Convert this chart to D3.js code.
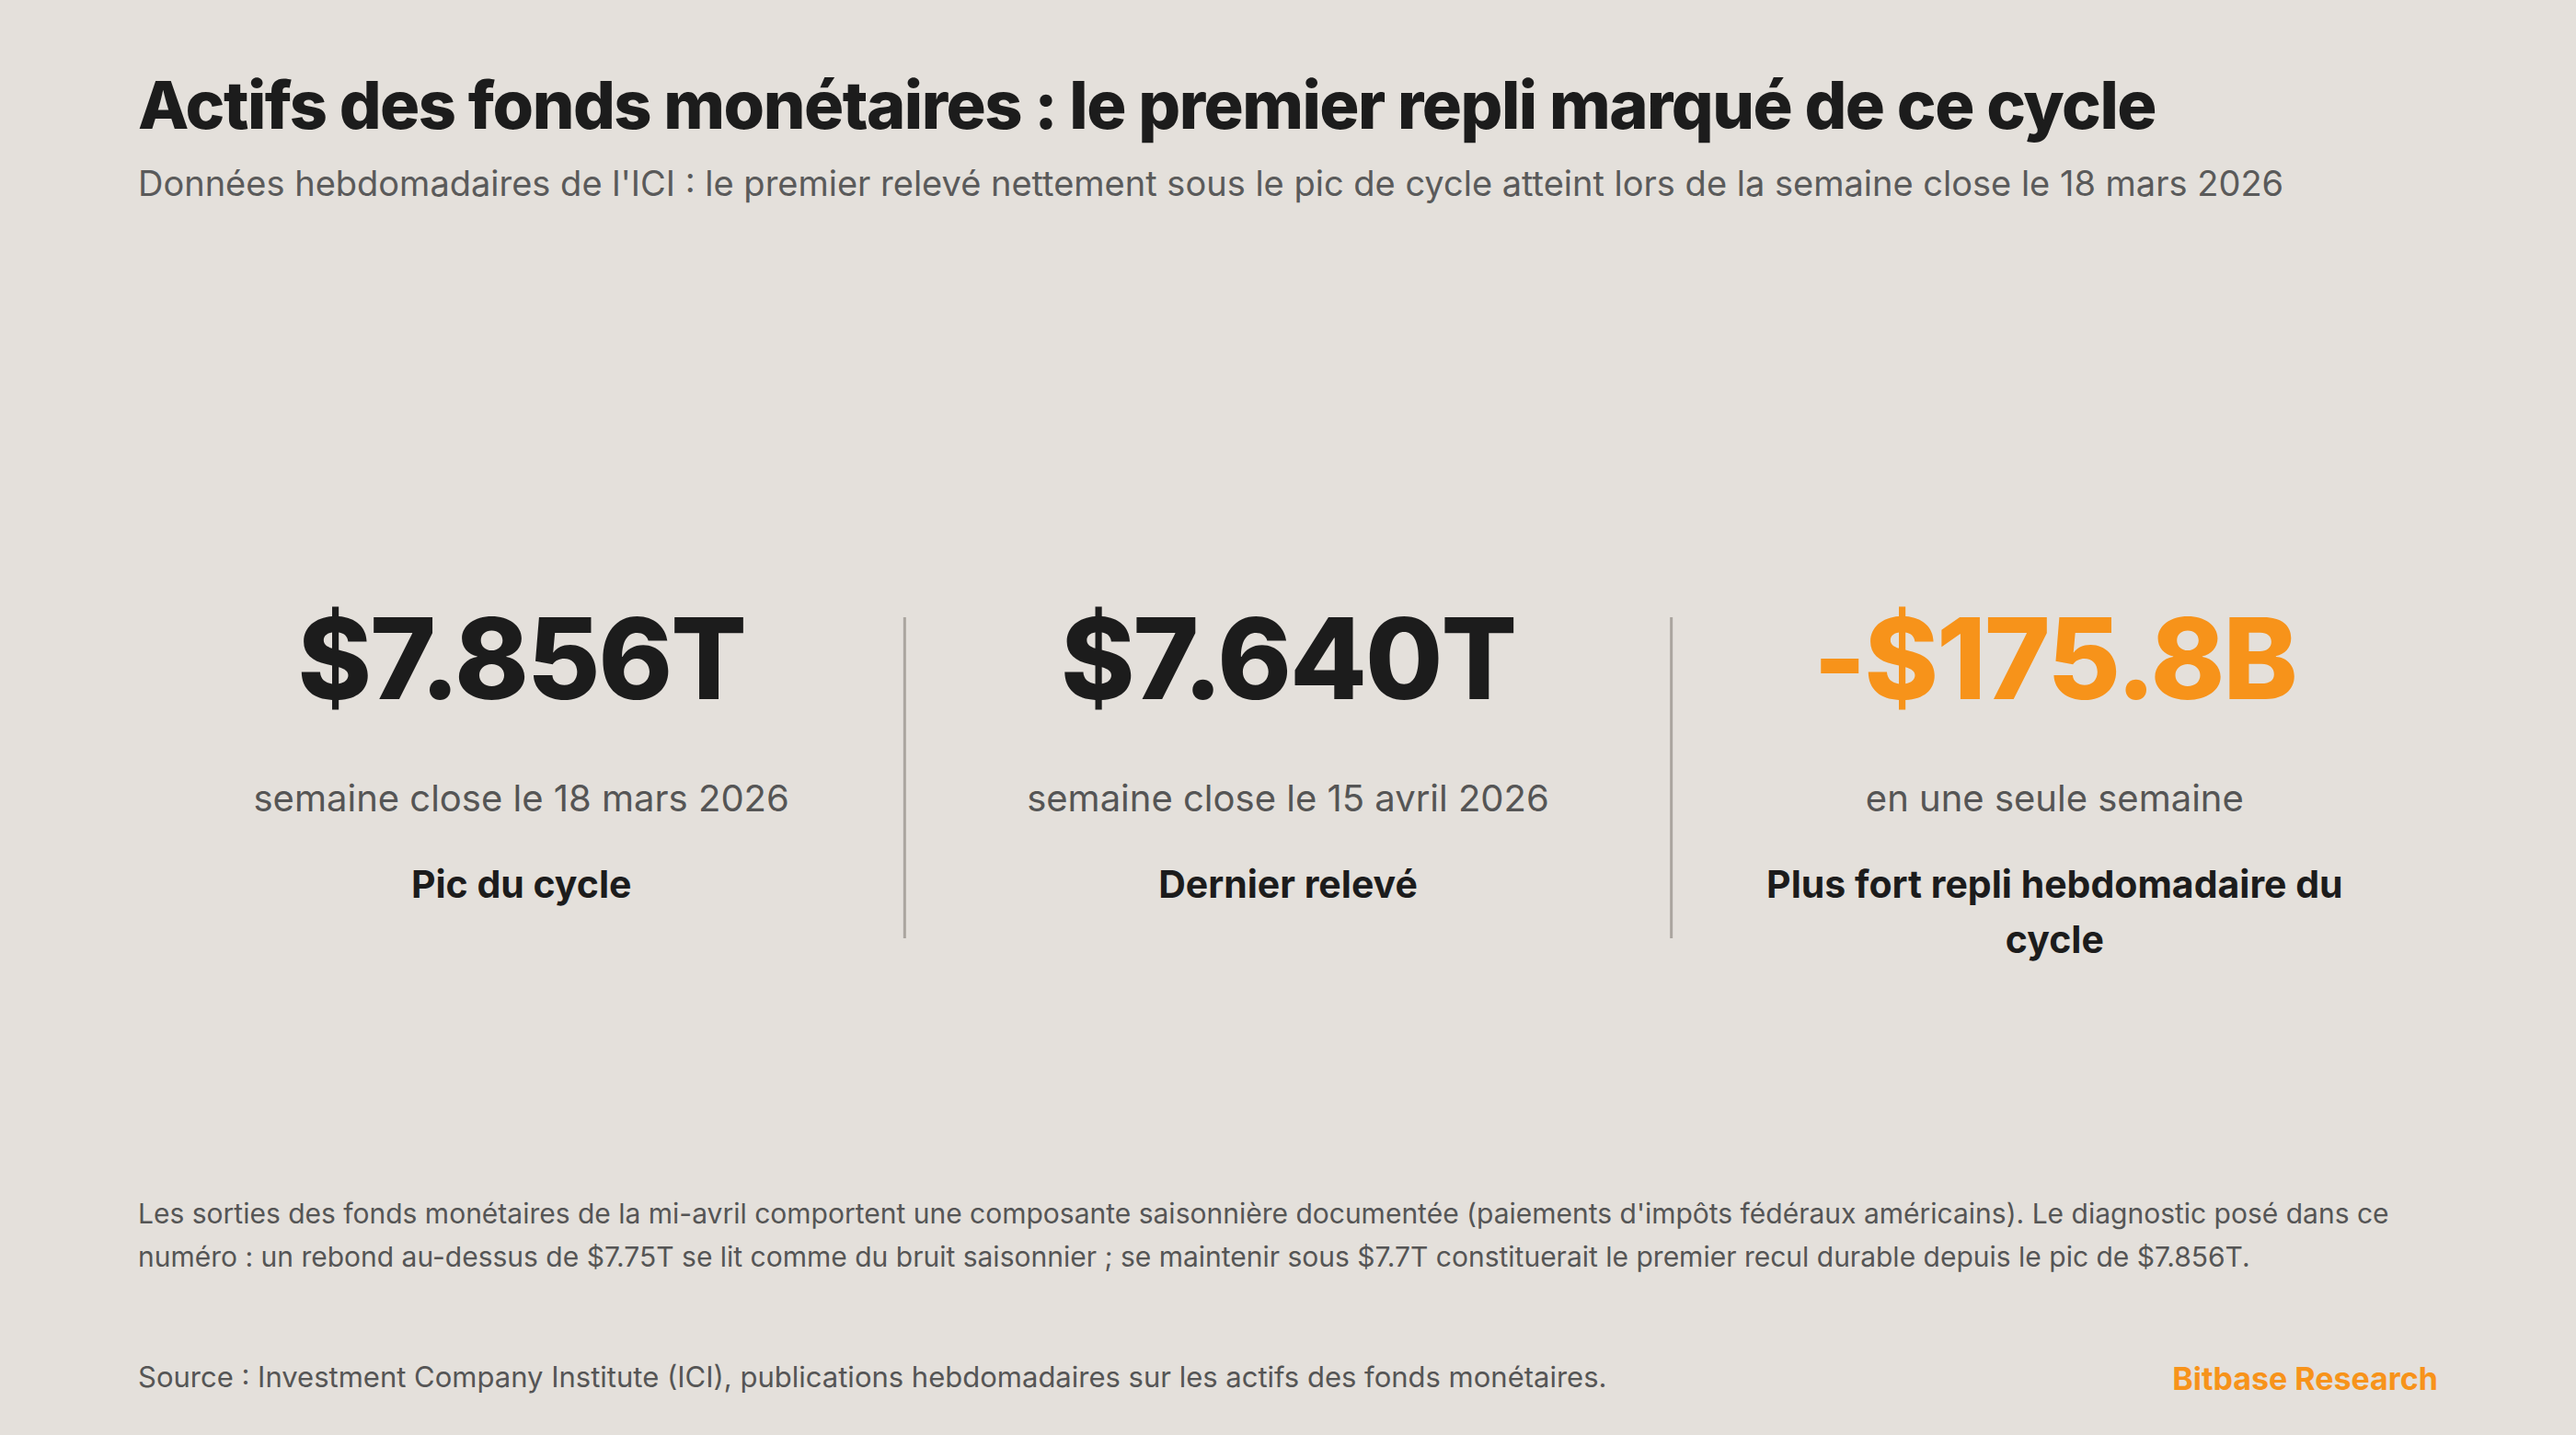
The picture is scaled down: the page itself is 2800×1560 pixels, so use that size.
<!DOCTYPE html>
<html><head><meta charset="utf-8">
<script src="https://cdn.jsdelivr.net/npm/d3@7"></script>
<style>body{margin:0;background:#e4e0db;}svg{display:block;font-family:Inter,"Open Sans",sans-serif;}</style>
</head><body><div id="chart"></div>
<script>
// KPI cards
var kpiValues = ["$7.856T", "$7.640T", "-$175.8B"];
var kpiDates = ["semaine close le 18 mars 2026", "semaine close le 15 avril 2026", "en une seule semaine"];
var kpiLabels = ["Pic du cycle", "Dernier relevé", "Plus fort repli hebdomadaire du cycle"];
var kpiColors = ["#1c1c1c", "#1c1c1c", "#f7931a"];

var W = 2800, H = 1560;
var svg = d3.select("#chart").append("svg").attr("width", W).attr("height", H);
svg.append("rect").attr("width", W).attr("height", H).attr("fill", "#e4e0db");

svg.append("text").attr("x", 150).attr("y", 140).attr("font-size", 72).attr("font-weight", 800)
  .attr("fill", "#1c1c1c").attr("letter-spacing", -1.5)
  .text("Actifs des fonds monétaires : le premier repli marqué de ce cycle");
svg.append("text").attr("x", 150).attr("y", 213).attr("font-size", 38).attr("fill", "#5a5a5a")
  .text("Données hebdomadaires de l'ICI : le premier relevé nettement sous le pic de cycle atteint lors de la semaine close le 18 mars 2026");

var xScale = d3.scaleBand().domain(d3.range(kpiValues.length)).range([150, 2650]);

// dividers
svg.selectAll(".div").data(d3.range(1, kpiValues.length)).enter().append("line")
  .attr("x1", d => xScale(d) - 0).attr("x2", d => xScale(d))
  .attr("y1", 671).attr("y2", 1020).attr("stroke", "#aaa59f").attr("stroke-width", 3);

var g = svg.selectAll(".kpi").data(kpiValues).enter().append("g")
  .attr("transform", (d, i) => `translate(${xScale(i) + xScale.bandwidth() / 2},0)`)
  .attr("text-anchor", "middle");
g.append("text").attr("y", 760).attr("font-size", 122).attr("font-weight", 800)
  .attr("letter-spacing", -2).attr("fill", (d, i) => kpiColors[i]).text(d => d);
g.append("text").attr("y", 882).attr("font-size", 40).attr("fill", "#555")
  .text((d, i) => kpiDates[i]);

function wrap(sel, width, lh) {
  sel.each(function () {
    var t = d3.select(this), words = t.text().split(" "), line = [], y = +t.attr("y");
    t.text(null);
    var ts = t.append("tspan").attr("x", t.attr("x") || 0).attr("y", y);
    words.forEach(w => {
      line.push(w); ts.text(line.join(" "));
      if (ts.node().getComputedTextLength() > width && line.length > 1) {
        line.pop(); ts.text(line.join(" ")); line = [w]; y += lh;
        ts = t.append("tspan").attr("x", t.attr("x") || 0).attr("y", y).text(w);
      }
    });
  });
}
g.append("text").attr("y", 976).attr("font-size", 41).attr("font-weight", 700).attr("fill", "#1c1c1c")
  .text((d, i) => kpiLabels[i]).call(wrap, 690, 60);

var note = "Les sorties des fonds monétaires de la mi-avril comportent une composante saisonnière documentée (paiements d'impôts fédéraux américains). Le diagnostic posé dans ce numéro : un rebond au-dessus de $7.75T se lit comme du bruit saisonnier ; se maintenir sous $7.7T constituerait le premier recul durable depuis le pic de $7.856T.";
svg.append("text").attr("x", 150).attr("y", 1330).attr("font-size", 30).attr("fill", "#555")
  .text(note).call(wrap, 2490, 47);
svg.append("text").attr("x", 150).attr("y", 1508).attr("font-size", 31).attr("fill", "#555")
  .text("Source : Investment Company Institute (ICI), publications hebdomadaires sur les actifs des fonds monétaires.");
svg.append("text").attr("x", 2650).attr("y", 1511).attr("text-anchor", "end").attr("font-size", 34)
  .attr("font-weight", 700).attr("fill", "#f7931a").text("Bitbase Research");
</script></body></html>
